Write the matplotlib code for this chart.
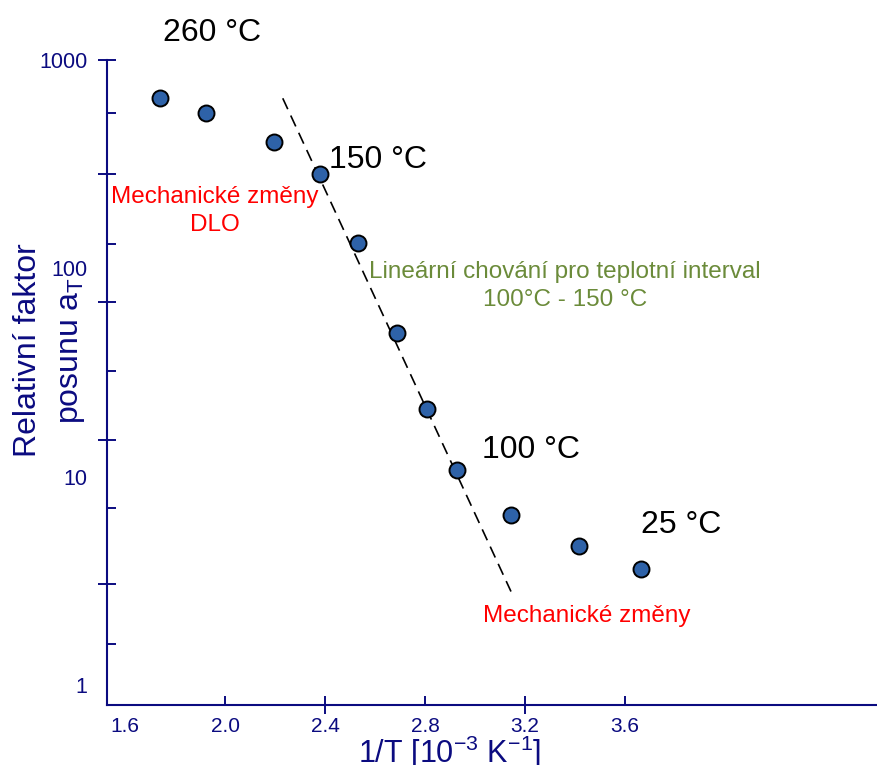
import matplotlib
matplotlib.use("Agg")
import matplotlib.pyplot as plt
from matplotlib.ticker import FixedLocator, NullFormatter, NullLocator

# ---- data ----
inv_T = [1.74, 1.923, 2.197, 2.38, 2.533, 2.687, 2.808, 2.928, 3.143, 3.417, 3.663]
a_T = [655, 555, 403, 284, 133, 48.8, 21.1, 10.8, 6.52, 4.66, 3.61]
fit_x = [2.231, 3.144]
fit_y = [655, 2.81]
x_tick_values = [1.6, 2.0, 2.4, 2.8, 3.2, 3.6]
x_tick_labels = ["1.6", "2.0", "2.4", "2.8", "3.2", "3.6"]
y_tick_values = [1, 10, 100, 1000]
y_tick_labels = ["1", "10", "100", "1000"]
y_long_marks = [1000, 284, 68.9, 15.0, 3.05]
y_short_marks = [557, 131, 32.1, 7.07, 1.57]
x_long_marks = [2.4, 3.2]
x_short_marks = [2.0, 2.8, 3.6]
temp_labels = ["260 °C", "150 °C", "100 °C", "25 °C"]

plt.rcParams['font.family'] = ['Liberation Sans', 'DejaVu Sans']
plt.rcParams['mathtext.fontset'] = 'custom'
plt.rcParams['mathtext.rm'] = 'Liberation Sans'
plt.rcParams['mathtext.it'] = 'Liberation Sans:italic'
plt.rcParams['mathtext.bf'] = 'Liberation Sans:bold'

NAVY = "#0B0B80"
RED = "#FF0000"
GREEN = "#6B8B3A"
BLUE = "#2E62A8"

W, H = 878, 765
fig = plt.figure(figsize=(W / 100, H / 100), dpi=100)
ax = fig.add_axes([107 / W, 1 - 705 / H, 1 - 107 / W, 645 / H])
ax.set_yscale('log')
ax.set_xlim(1.528, 4.612)
ax.set_ylim(0.8017, 1000)

for s in ['top', 'right']:
    ax.spines[s].set_visible(False)
for s in ['left', 'bottom']:
    ax.spines[s].set_color(NAVY)
    ax.spines[s].set_linewidth(1.5)

# tick marks on the primary axes (no labels)
ax.xaxis.set_major_locator(FixedLocator(x_long_marks))
ax.xaxis.set_minor_locator(FixedLocator(x_short_marks))
ax.yaxis.set_major_locator(FixedLocator(y_long_marks))
ax.yaxis.set_minor_locator(FixedLocator(y_short_marks))
for axis in (ax.xaxis, ax.yaxis):
    axis.set_major_formatter(NullFormatter())
    axis.set_minor_formatter(NullFormatter())
ax.tick_params(which='major', direction='inout', length=13, width=1.4, color=NAVY)
ax.tick_params(which='minor', direction='in', length=6.5, width=1.4, color=NAVY)

# tick labels via secondary axes
secx = ax.secondary_xaxis('bottom')
secx.spines['bottom'].set_visible(False)
secx.set_xticks(x_tick_values, x_tick_labels)
secx.xaxis.set_minor_locator(NullLocator())
secx.tick_params(which='both', length=0, pad=9, labelsize=15, labelcolor=NAVY)

secy = ax.secondary_yaxis('left')
secy.spines['left'].set_visible(False)
secy.set_yticks(y_tick_values, y_tick_labels)
secy.yaxis.set_minor_locator(NullLocator())
secy.tick_params(which='both', length=0, pad=14, labelsize=15.5, labelcolor=NAVY)

# fit line
line, = ax.plot(fit_x, fit_y, color='black', lw=1.2, zorder=2)
line.set_dashes((7.2, 4.2))

# points
ax.plot(inv_T, a_T, linestyle='none', marker='o', markersize=11.5,
        markerfacecolor=BLUE, markeredgecolor='black', markeredgewidth=1.4,
        zorder=3, clip_on=False)


def P(x, y):
    return (x / W, 1 - y / H)


# axis titles
fig.text(*P(50, 350), "Relativní faktor\nposunu a$_\\mathrm{T}$", rotation=90,
         ha='center', va='center', multialignment='center', fontsize=23,
         color=NAVY, linespacing=1.5)
fig.text(*P(450, 763), "1/T [10$^{\\mathrm{-3}}$ K$^{\\mathrm{-1}}$]",
         ha='center', va='baseline', fontsize=22, color=NAVY)

# temperature labels
temp_pos = [(212, 33), (378, 160), (531, 450), (681, 525)]
for lab, (px, py) in zip(temp_labels, temp_pos):
    fig.text(*P(px, py), lab, ha='center', va='center', fontsize=23, color='black')

fig.text(*P(215, 211), "Mechanické změny\nDLO", ha='center', va='center',
         multialignment='center', fontsize=17.5, color=RED, linespacing=1.4)
fig.text(*P(565, 286), "Lineární chování pro teplotní interval\n100°C - 150 °C",
         ha='center', va='center', multialignment='center', fontsize=17.5,
         color=GREEN, linespacing=1.3)
fig.text(*P(587, 616), "Mechanické změny", ha='center', va='center',
         fontsize=17.5, color=RED)

fig.savefig("out.png", dpi=100)
